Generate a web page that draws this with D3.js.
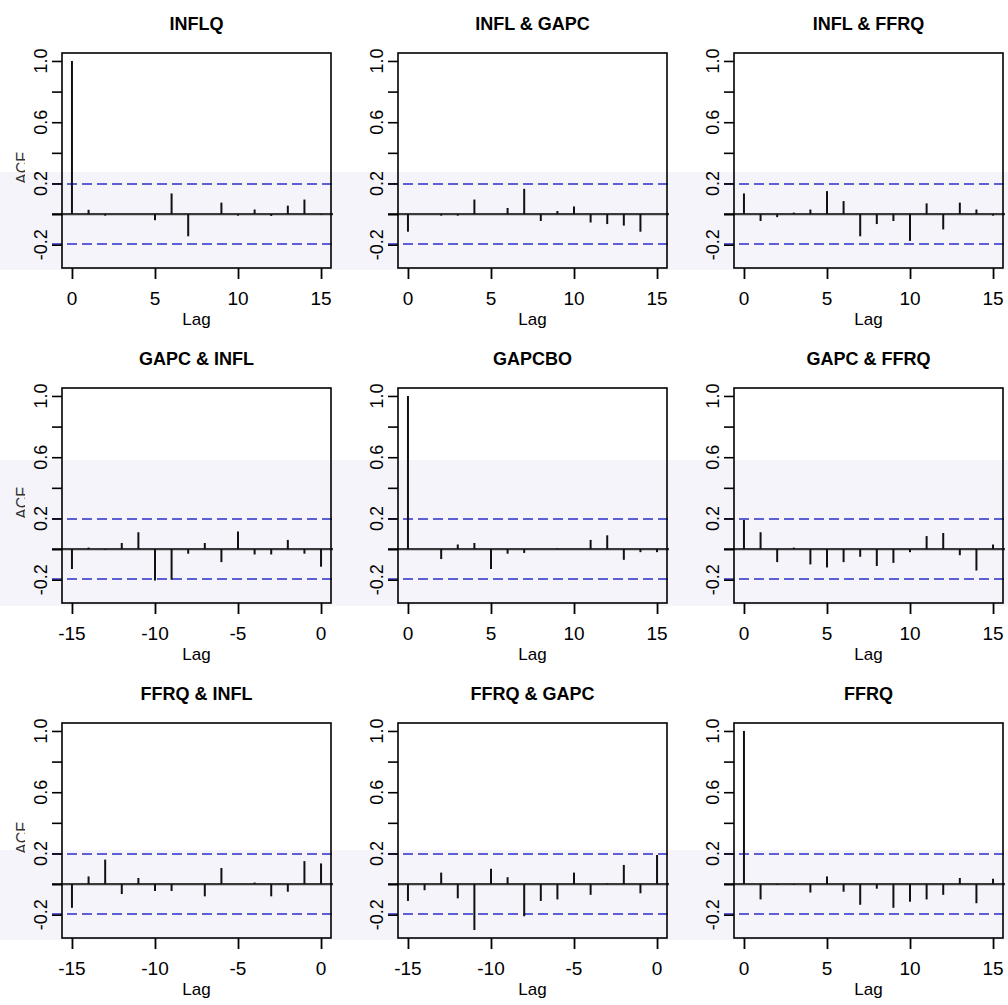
<!DOCTYPE html>
<html>
<head>
<meta charset="utf-8">
<script src="https://cdn.jsdelivr.net/npm/d3@7"></script>
<style>
  html, body { margin: 0; padding: 0; background: #fff; }
  svg { display: block; }
  text { font-family: "Liberation Sans", Arial, Helvetica, sans-serif; }
</style>
</head>
<body>
<svg id="chart" width="1008" height="1005"></svg>
<script>
// ---------- data ----------
const titles = ["INFLQ", "INFL & GAPC", "INFL & FFRQ",
                "GAPC & INFL", "GAPCBO", "GAPC & FFRQ",
                "FFRQ & INFL", "FFRQ & GAPC", "FFRQ"];

const lagsPos = [0, 1, 2, 3, 4, 5, 6, 7, 8, 9, 10, 11, 12, 13, 14, 15];
const lagsNeg = [-15, -14, -13, -12, -11, -10, -9, -8, -7, -6, -5, -4, -3, -2, -1, 0];

const acfInflq      = [1.0, 0.028, -0.01, 0.0, 0.0, -0.04, 0.135, -0.145, 0.0, 0.075, -0.01, 0.03, -0.012, 0.055, 0.095, -0.005];
const ccfInflGapc   = [-0.115, 0.0, -0.01, -0.01, 0.095, 0.0, 0.04, 0.165, -0.045, 0.02, 0.05, -0.055, -0.065, -0.075, -0.115, 0.0];
const ccfInflFfrq   = [0.135, -0.045, -0.02, 0.01, 0.03, 0.15, 0.085, -0.145, -0.065, -0.045, -0.175, 0.07, -0.1, 0.075, 0.03, -0.01];
const ccfGapcInfl   = [-0.13, 0.01, -0.005, 0.04, 0.11, -0.205, -0.2, -0.03, 0.04, -0.085, 0.115, -0.035, -0.035, 0.06, -0.03, -0.115];
const acfGapcbo     = [1.0, 0.0, -0.065, 0.03, 0.04, -0.13, -0.03, -0.025, 0.0, 0.005, 0.0, 0.06, 0.09, -0.07, -0.02, -0.02];
const ccfGapcFfrq   = [0.19, 0.11, -0.085, 0.01, -0.1, -0.12, -0.085, -0.05, -0.11, -0.09, -0.02, 0.085, 0.105, -0.04, -0.14, 0.03];
const ccfFfrqInfl   = [-0.155, 0.05, 0.16, -0.065, 0.04, -0.045, -0.045, 0.0, -0.08, 0.105, 0.0, 0.01, -0.08, -0.05, 0.15, 0.135];
const ccfFfrqGapc   = [-0.11, -0.04, 0.075, -0.093, -0.30, 0.1, 0.045, -0.21, -0.11, -0.1, 0.075, -0.07, 0.005, 0.125, -0.06, 0.19];
const acfFfrq       = [1.0, -0.1, -0.005, -0.005, -0.055, 0.05, -0.05, -0.135, -0.03, -0.155, -0.115, -0.1, -0.07, 0.04, -0.125, 0.035];

const ciBound = 0.196;
const yTicks = [-0.2, 0.0, 0.2, 0.4, 0.6, 0.8, 1.0];
const yTickLabels = ["-0.2", "0.2", "0.6", "1.0"];
const xTicksPos = [0, 5, 10, 15];
const xTicksNeg = [-15, -10, -5, 0];

const panels = [
  { title: titles[0], lags: lagsPos, vals: acfInflq,    ticks: xTicksPos },
  { title: titles[1], lags: lagsPos, vals: ccfInflGapc, ticks: xTicksPos },
  { title: titles[2], lags: lagsPos, vals: ccfInflFfrq, ticks: xTicksPos },
  { title: titles[3], lags: lagsNeg, vals: ccfGapcInfl, ticks: xTicksNeg },
  { title: titles[4], lags: lagsPos, vals: acfGapcbo,   ticks: xTicksPos },
  { title: titles[5], lags: lagsPos, vals: ccfGapcFfrq, ticks: xTicksPos },
  { title: titles[6], lags: lagsNeg, vals: ccfFfrqInfl, ticks: xTicksNeg },
  { title: titles[7], lags: lagsNeg, vals: ccfFfrqGapc, ticks: xTicksNeg },
  { title: titles[8], lags: lagsPos, vals: acfFfrq,     ticks: xTicksPos }
];

// ---------- layout ----------
const svg = d3.select("#chart");
const colW = 336, rowH = 335;
const box = { left: 62, right: 331, top: 53, bottom: 268 };

// faint shaded bands (scan artefact in reference)
const bands = [[172, 270], [460, 606], [850, 940]];
svg.selectAll("rect.band").data(bands).enter().append("rect")
  .attr("class", "band")
  .attr("x", 0).attr("width", 1008)
  .attr("y", d => d[0]).attr("height", d => d[1] - d[0])
  .attr("fill", "rgb(200,200,228)").attr("opacity", 0.2);

const defs = svg.append("defs");
defs.append("clipPath").attr("id", "acfclip")
  .append("rect").attr("x", 0).attr("y", 0).attr("width", 25).attr("height", 335);

const yMin = -0.30, yMax = 1.0;
const yPad = (yMax - yMin) * 0.04;
const y = d3.scaleLinear().domain([yMin - yPad, yMax + yPad]).range([box.bottom, box.top]);

panels.forEach((p, i) => {
  const col = i % 3, row = Math.floor(i / 3);
  const g = svg.append("g").attr("transform", `translate(${col * colW},${row * rowH})`);

  const lo = d3.min(p.lags), hi = d3.max(p.lags);
  const xPad = (hi - lo) * 0.04;
  const x = d3.scaleLinear().domain([lo - xPad, hi + xPad]).range([box.left, box.right]);

  // title
  g.append("text")
    .attr("x", (box.left + box.right) / 2).attr("y", 30)
    .attr("text-anchor", "middle")
    .attr("font-size", 18).attr("font-weight", "bold")
    .text(p.title);

  // zero line
  g.append("line")
    .attr("x1", box.left - 10).attr("x2", box.right + 2)
    .attr("y1", y(0)).attr("y2", y(0))
    .attr("stroke", "#3a3a3a").attr("stroke-width", 2.2);

  // confidence bounds
  [ciBound, -ciBound].forEach(c => {
    g.append("line")
      .attr("x1", box.left - 10).attr("x2", box.right + 2)
      .attr("y1", y(c)).attr("y2", y(c))
      .attr("stroke", "#4646cf").attr("stroke-width", 2)
      .attr("stroke-dasharray", "10,5")
      .attr("opacity", 0.85);
  });

  // bars (type = "h")
  g.selectAll("line.bar").data(p.lags.map((l, k) => ({ lag: l, v: p.vals[k] })))
    .enter().append("line").attr("class", "bar")
    .attr("x1", d => x(d.lag)).attr("x2", d => x(d.lag))
    .attr("y1", y(0)).attr("y2", d => y(d.v))
    .attr("stroke", "#111").attr("stroke-width", 2);

  // box
  g.append("rect")
    .attr("x", box.left).attr("y", box.top)
    .attr("width", box.right - box.left).attr("height", box.bottom - box.top)
    .attr("fill", "none").attr("stroke", "#000").attr("stroke-width", 1.6);

  // y axis
  const yAxis = d3.axisLeft(y).tickValues(yTicks).tickSize(10).tickFormat("");
  const ya = g.append("g").attr("transform", `translate(${box.left},0)`).call(yAxis);
  ya.select(".domain").remove();
  ya.selectAll(".tick line").attr("stroke", "#000").attr("stroke-width", 1.6);
  yTickLabels.forEach(lbl => {
    g.append("text")
      .attr("transform", `translate(47,${y(+lbl)}) rotate(-90)`)
      .attr("text-anchor", "middle")
      .attr("font-size", 18)
      .text(lbl);
  });

  // x axis
  const xAxis = d3.axisBottom(x).tickValues(p.ticks).tickSize(11).tickFormat("");
  const xa = g.append("g").attr("transform", `translate(0,${box.bottom})`).call(xAxis);
  xa.select(".domain").remove();
  xa.selectAll(".tick line").attr("stroke", "#000").attr("stroke-width", 1.8);
  p.ticks.forEach(t => {
    g.append("text")
      .attr("x", x(t)).attr("y", 305)
      .attr("text-anchor", "middle")
      .attr("font-size", 19)
      .text(String(t));
  });

  // x label
  g.append("text")
    .attr("x", (box.left + box.right) / 2).attr("y", 325)
    .attr("text-anchor", "middle")
    .attr("font-size", 17)
    .text("Lag");

  // y label (partly hidden in reference)
  if (col === 0) {
    g.append("g").attr("clip-path", "url(#acfclip)")
      .append("text")
      .attr("transform", `translate(28,168) rotate(-90)`)
      .attr("text-anchor", "middle")
      .attr("font-size", 16)
      .attr("fill", "#333")
      .text("ACF");
  }
});
</script>
</body>
</html>
